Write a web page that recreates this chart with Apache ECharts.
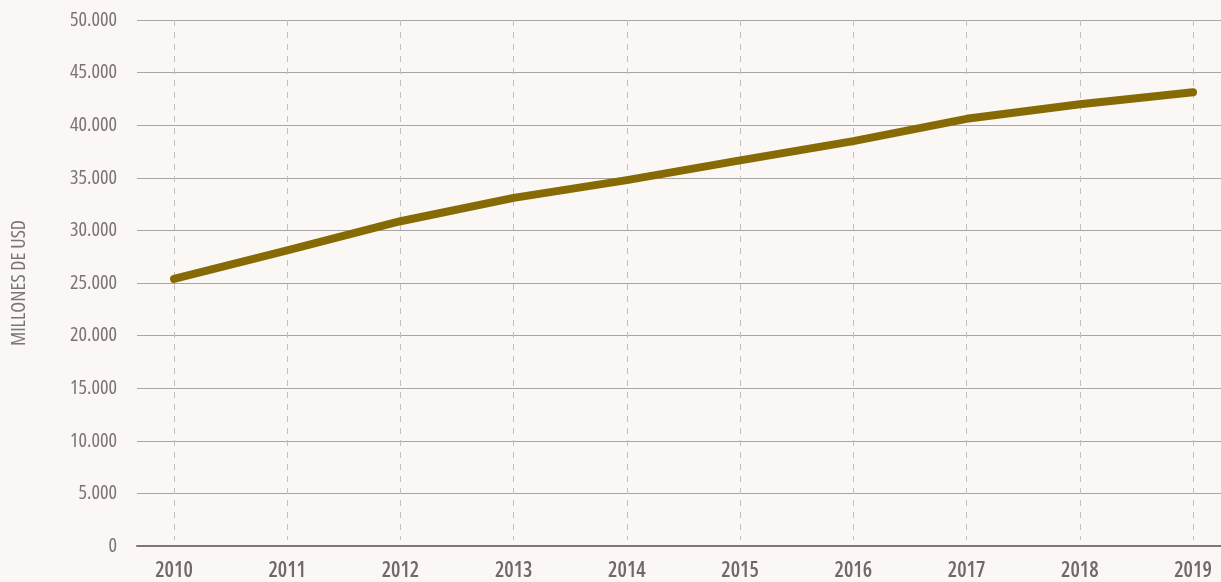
<!DOCTYPE html>
<html>
<head>
<meta charset="utf-8">
<script src="https://cdn.jsdelivr.net/npm/echarts@6/dist/echarts.min.js"></script>
<style>
html,body{margin:0;padding:0;background:#faf7f4;}
#chart{width:1221px;height:582px;}
</style>
</head>
<body>
<div id="chart"></div>
<script>
const years = ['2010','2011','2012','2013','2014','2015','2016','2017','2018','2019'];
const values = [25100, 27850, 30650, 32900, 34600, 36500, 38350, 40500, 41900, 43050];
const yTitle = 'MILLONES DE USD';

const FONT = "'Open Sans', 'Roboto', sans-serif";
const fmt = v => v === 0 ? '0' : String(v).replace(/\B(?=(\d{3})+(?!\d))/g, '.');

const chart = echarts.init(document.getElementById('chart'));
chart.setOption({
  backgroundColor: '#faf7f4',
  animation: false,
  grid: [
    {left: 137, right: 0, top: 20, bottom: 36, containLabel: false},
    {left: 174, right: 28, top: 20, bottom: 36, containLabel: false}
  ],
  xAxis: [
    {gridIndex: 0, type: 'value', min: 0, max: 1, show: true,
      axisLine: {show: true, lineStyle: {color: '#7d7775', width: 2}},
      axisTick: {show: false}, axisLabel: {show: false}, splitLine: {show: false}},
    {gridIndex: 1, type: 'category', data: years, boundaryGap: false,
      axisLine: {show: false}, axisTick: {show: false},
      axisLabel: {color: '#6f6a68', fontFamily: FONT, fontWeight: '600 condensed', fontSize: 21, margin: 21},
      splitLine: {show: true, lineStyle: {color: '#c4c0bd', type: [6, 6], width: 1}}}
  ],
  yAxis: [
    {gridIndex: 0, type: 'value', min: 0, max: 50000, interval: 5000,
      name: yTitle, nameLocation: 'middle', nameGap: 108, nameRotate: 90,
      nameTextStyle: {color: '#7a7573', fontFamily: FONT, fontWeight: 'condensed', fontSize: 20},
      axisLine: {show: false}, axisTick: {show: false},
      axisLabel: {color: '#7a7573', fontFamily: FONT, fontWeight: 'condensed', fontSize: 20, margin: 20, formatter: fmt},
      splitLine: {show: true, lineStyle: {color: '#a9a5a3', width: 1}}},
    {gridIndex: 1, type: 'value', min: 0, max: 50000, interval: 5000, show: false,
      splitLine: {show: false}}
  ],
  series: [{
    type: 'line', xAxisIndex: 1, yAxisIndex: 1, data: values,
    showSymbol: false, symbol: 'none',
    lineStyle: {color: '#866a04', width: 8, cap: 'round', join: 'round'},
    z: 5
  }]
});
</script>
</body>
</html>
